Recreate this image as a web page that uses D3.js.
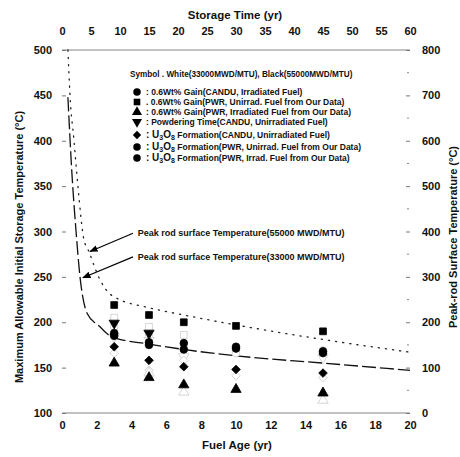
<!DOCTYPE html>
<html>
<head>
<meta charset="utf-8">
<script src="https://cdn.jsdelivr.net/npm/d3@7"></script>
<style>
  body { margin: 0; background: #fff; }
  text { font-family: "Liberation Sans", Arial, sans-serif; fill: #111; }
</style>
</head>
<body>
<div id="chart"></div>
<script>
const width = 460;
const height = 457;

// fuel age (yr) of the measured points
const ages = [3, 5, 7, 10, 15];

// black symbols (55000 MWD/MTU), max allowable initial storage temp (C)
const blackSquare = [219, 208, 200, 196, 190];
const blackCircle = [185, 175, 170, 173, 166];
const blackHex = [188, 178, 177, 171, 168];
const blackDown = [199, 188, null, null, null];
const blackDiamond = [173, 158, 151, 148, 144];
const blackTriangle = [155, 139, 131, 126, 122];

// white symbols (33000 MWD/MTU), faint in the scan
const whiteSquare = [205, 195, 186, null, null];
const whiteCircle = [195, 186, 172, 166, 169];
const whiteDown = [184, 180, 162, null, 161];
const whiteDiamond = [166, 147, 158, 141, 139];
const whiteTriangle = [null, 144, 123, null, 114];

// peak rod surface temperature curves (right axis, C)
const dashAges = [0.34, 0.57, 0.8, 1.03, 1.44, 2.18, 2.76, 3, 5, 7, 10, 15, 20];
const dash33000 = [696, 528, 404, 302, 220, 190, 170, 166, 152, 140, 126, 110, 94];
const dotAges = [0.34, 0.46, 0.69, 0.92, 1.26, 1.5, 2.18, 2.76, 3, 5, 7, 10, 15, 20];
const dot55000 = [800, 700, 600, 498, 382, 360, 294, 262, 256, 232, 216, 194, 162, 134];

const leftTicks = [100, 150, 200, 250, 300, 350, 400, 450, 500];
const rightTicks = [0, 100, 200, 300, 400, 500, 600, 700, 800];
const bottomTicks = [0, 2, 4, 6, 8, 10, 12, 14, 16, 18, 20];
const topTicks = [0, 5, 10, 15, 20, 25, 30, 35, 40, 45, 50, 55, 60];

const legendItems = [
  {sym: 'circle', label: ': 0.6Wt% Gain(CANDU, Irradiated Fuel)'},
  {sym: 'square', label: '. 0.6Wt% Gain(PWR, Unirrad. Fuel from Our Data)'},
  {sym: 'triangle', label: ': 0.6Wt% Gain(PWR, Irradiated Fuel from Our Data)'},
  {sym: 'down', label: ': Powdering Time(CANDU, Unirradiated Fuel)'},
  {sym: 'diamond', label: 'Formation(CANDU, Unirradiated Fuel)', u3o8: true},
  {sym: 'hex', label: 'Formation(PWR, Unirrad. Fuel from Our Data)', u3o8: true},
  {sym: 'circle', label: 'Formation(PWR, Irrad. Fuel from Our Data)', u3o8: true}
];

const x = d3.scaleLinear([0, 20], [62, 410]);
const xTop = d3.scaleLinear([0, 60], [62, 410]);
const yL = d3.scaleLinear([100, 500], [413, 50]);
const yR = d3.scaleLinear([0, 800], [413, 50]);

const svg = d3.select('#chart').append('svg')
  .attr('width', width)
  .attr('height', height);

// frame lines top and bottom
svg.append('line').attr('x1', x(0)).attr('x2', x(20)).attr('y1', yL(500)).attr('y2', yL(500))
  .attr('stroke', '#666').attr('stroke-width', 0.8);
svg.append('line').attr('x1', x(0)).attr('x2', x(20)).attr('y1', yL(100)).attr('y2', yL(100))
  .attr('stroke', '#666').attr('stroke-width', 0.8);

const tickFont = g => g.selectAll('text')
  .style('font-size', '11px').style('font-weight', 'bold')
  .style('font-family', '"Liberation Sans", Arial, sans-serif');

const leftAxis = svg.append('g').attr('transform', `translate(${x(0)},0)`)
  .call(d3.axisLeft(yL).tickValues(leftTicks).tickSize(-4).tickPadding(10));
leftAxis.select('.domain').remove();
leftAxis.selectAll('line').attr('stroke', '#777');
leftAxis.call(tickFont);

const rightAxis = svg.append('g').attr('transform', `translate(${x(20)},0)`)
  .call(d3.axisRight(yR).tickValues(rightTicks).tickSize(-4).tickPadding(12));
rightAxis.select('.domain').remove();
rightAxis.selectAll('line').attr('stroke', '#777');
rightAxis.call(tickFont);
svg.append('g').selectAll('line')
  .data(rightTicks.slice(0, -1).map(d => d + 50))
  .join('line')
  .attr('x1', x(20) - 3).attr('x2', x(20) - 1)
  .attr('y1', d => yR(d)).attr('y2', d => yR(d))
  .attr('stroke', '#888');

const bottomAxis = svg.append('g').attr('transform', `translate(0,${yL(100)})`)
  .call(d3.axisBottom(x).tickValues(bottomTicks).tickSize(0).tickPadding(8));
bottomAxis.select('.domain').remove();
bottomAxis.call(tickFont);

const topAxis = svg.append('g').attr('transform', `translate(0,${yL(500) - 9})`)
  .call(d3.axisTop(xTop).tickValues(topTicks).tickSize(0).tickPadding(6));
topAxis.select('.domain').remove();
topAxis.call(tickFont);

// axis titles
svg.append('text').attr('x', 235).attr('y', 19).attr('text-anchor', 'middle')
  .style('font-size', '11.5px').style('font-weight', 'bold').text('Storage Time (yr)');
svg.append('text').attr('x', 237).attr('y', 449).attr('text-anchor', 'middle')
  .style('font-size', '11.5px').style('font-weight', 'bold').text('Fuel Age (yr)');
svg.append('text').attr('transform', 'translate(23,247) rotate(-90)').attr('text-anchor', 'middle')
  .style('font-size', '11px').style('font-weight', 'bold')
  .text('Maximum Allowable Initial Storage Temperature (°C)');
svg.append('text').attr('transform', 'translate(457,237) rotate(-90)').attr('text-anchor', 'middle')
  .style('font-size', '11px').style('font-weight', 'bold')
  .text('Peak-rod Surface Temperature (°C)');

// curves
const line = d3.line().curve(d3.curveMonotoneX);
svg.append('path')
  .attr('d', line(dotAges.map((a, i) => [x(a), yR(dot55000[i])])))
  .attr('fill', 'none').attr('stroke', '#222').attr('stroke-width', 1.3)
  .attr('stroke-dasharray', '1.2,6').attr('stroke-linecap', 'round');
svg.append('path')
  .attr('d', line(dashAges.map((a, i) => [x(a), yR(dash33000[i])])))
  .attr('fill', 'none').attr('stroke', '#111').attr('stroke-width', 1.3)
  .attr('stroke-dasharray', '14,4');

// symbols
function symPath(sym, size) {
  if (sym === 'circle' || sym === 'hex') return d3.symbol(d3.symbolCircle, size)();
  if (sym === 'square') return d3.symbol(d3.symbolSquare, size)();
  if (sym === 'diamond') return d3.symbol(d3.symbolSquare, size * 0.8)();
  return d3.symbol(d3.symbolTriangle, size)();
}
function symRot(sym) {
  if (sym === 'down') return ' rotate(180)';
  if (sym === 'diamond') return ' rotate(45)';
  return '';
}

const series = [
  {sym: 'square', vals: whiteSquare, black: false},
  {sym: 'circle', vals: whiteCircle, black: false},
  {sym: 'down', vals: whiteDown, black: false},
  {sym: 'diamond', vals: whiteDiamond, black: false},
  {sym: 'triangle', vals: whiteTriangle, black: false},
  {sym: 'square', vals: blackSquare, black: true},
  {sym: 'circle', vals: blackCircle, black: true},
  {sym: 'hex', vals: blackHex, black: true},
  {sym: 'down', vals: blackDown, black: true},
  {sym: 'diamond', vals: blackDiamond, black: true},
  {sym: 'triangle', vals: blackTriangle, black: true}
];

series.forEach(s => {
  const pts = ages.map((a, i) => ({a, v: s.vals[i]})).filter(d => d.v != null);
  svg.append('g').selectAll('path')
    .data(pts)
    .join('path')
    .attr('transform', d => `translate(${x(d.a)},${yL(d.v)})${symRot(s.sym)}`)
    .attr('d', symPath(s.sym, 46))
    .attr('fill', s.black ? '#000' : '#fff')
    .attr('stroke', s.black ? '#000' : '#ccc')
    .attr('stroke-width', 0.8);
});

// annotations with arrows
svg.append('defs').append('marker')
  .attr('id', 'arr').attr('viewBox', '0 0 10 10').attr('refX', 9).attr('refY', 5)
  .attr('markerWidth', 7).attr('markerHeight', 7).attr('orient', 'auto')
  .append('path').attr('d', 'M0,1 L10,5 L0,9 Z').attr('fill', '#000');

const notes = [
  {from: [4.08, 298], to: [1.61, 278], text: 'Peak rod surface Temperature(55000 MWD/MTU)', at: [4.35, 295]},
  {from: [4.08, 272], to: [1.2, 249], text: 'Peak rod surface Temperature(33000 MWD/MTU)', at: [4.35, 269]}
];
notes.forEach(n => {
  svg.append('line')
    .attr('x1', x(n.from[0])).attr('y1', yL(n.from[1]))
    .attr('x2', x(n.to[0])).attr('y2', yL(n.to[1]))
    .attr('stroke', '#000').attr('stroke-width', 1.2)
    .attr('marker-end', 'url(#arr)');
  svg.append('text').attr('x', x(n.at[0])).attr('y', yL(n.at[1]))
    .style('font-size', '9px').style('font-weight', 'bold').text(n.text);
});

// legend
svg.append('text').attr('x', 130).attr('y', 77)
  .style('font-size', '8.2px').style('font-weight', 'bold')
  .text('Symbol . White(33000MWD/MTU), Black(55000MWD/MTU)');

const rowY = [92, 102, 112, 122, 135, 147, 158];
legendItems.forEach((d, i) => {
  svg.append('path')
    .attr('transform', `translate(137,${rowY[i]})${symRot(d.sym)}`)
    .attr('d', symPath(d.sym, 44))
    .attr('fill', '#000');
  const t = svg.append('text').attr('x', 146).attr('y', rowY[i] + 3)
    .style('font-size', '8.5px').style('font-weight', 'bold');
  if (d.u3o8) {
    t.append('tspan').style('font-size', '10px').text(': U');
    t.append('tspan').attr('dy', 2).style('font-size', '7px').text('3');
    t.append('tspan').attr('dy', -2).style('font-size', '10px').text('O');
    t.append('tspan').attr('dy', 2).style('font-size', '7px').text('8');
    t.append('tspan').attr('dy', -2).text(' ' + d.label);
  } else {
    t.text(d.label);
  }
});
</script>
</body>
</html>
